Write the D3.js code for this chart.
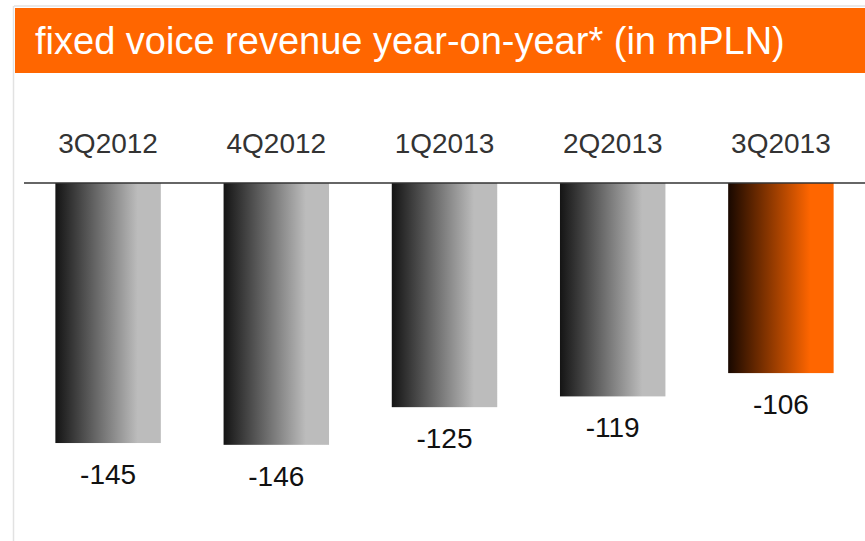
<!DOCTYPE html>
<html>
<head>
<meta charset="utf-8">
<script src="https://cdn.jsdelivr.net/npm/d3@7"></script>
<style>
  html, body { margin: 0; padding: 0; background: #fff; }
  svg { display: block; }
  text { font-family: "Liberation Sans", Arial, Helvetica, sans-serif; }
</style>
</head>
<body>
<svg id="chart" width="865" height="541"></svg>
<script>
// Quarterly year-on-year change in fixed voice revenue (mPLN)
const quarters = ["3Q2012", "4Q2012", "1Q2013", "2Q2013", "3Q2013"];
const revenueChange = [-145, -146, -125, -119, -106];
const highlightQuarter = "3Q2013";
const titleText = "fixed voice revenue year-on-year* (in mPLN)";

const W = 865, H = 541;
const svg = d3.select("#chart");

// Gradients: grey for earlier quarters, orange for the latest one
const defs = svg.append("defs");
function addGradient(id, from, to) {
  const g = defs.append("linearGradient")
    .attr("id", id).attr("x1", "0%").attr("x2", "100%").attr("y1", "0%").attr("y2", "0%");
  g.append("stop").attr("offset", "0%").attr("stop-color", from);
  g.append("stop").attr("offset", "78%").attr("stop-color", to);
  g.append("stop").attr("offset", "100%").attr("stop-color", to);
}
addGradient("gradGrey", "#141414", "#bcbcbc");
addGradient("gradOrange", "#180800", "#ff6600");

// Slide frame
svg.append("line").attr("x1", 14).attr("x2", W).attr("y1", 6).attr("y2", 6)
  .attr("stroke", "#e2e2e2").attr("stroke-width", 1.5);
svg.append("line").attr("x1", 13.5).attr("x2", 13.5).attr("y1", 6).attr("y2", H)
  .attr("stroke", "#e2e2e2").attr("stroke-width", 1.5);

// Title bar
svg.append("rect").attr("x", 15).attr("y", 8).attr("width", W - 15).attr("height", 65)
  .attr("fill", "#ff6600");
svg.append("text").attr("x", 35).attr("y", 54)
  .attr("fill", "#fff").attr("font-size", 38)
  .text(titleText);

// Scales
const x = d3.scaleBand().domain(quarters).range([24, W])
  .paddingInner(0.373).paddingOuter(0.1865);
const y = d3.scaleLinear().domain([0, -150]).range([183, 452]);

// Category labels above the zero line
const topAxis = d3.axisTop(x).tickSize(0).tickPadding(0);
const axisG = svg.append("g").attr("transform", "translate(0,153)").call(topAxis);
axisG.select(".domain").remove();
axisG.selectAll("text")
  .attr("font-size", 28).attr("fill", "#333").attr("dy", 0)
  .style("font-family", "\"Liberation Sans\", Arial, sans-serif");

const data = quarters.map((q, i) => ({ q, v: revenueChange[i] }));

// Bars hanging from zero
svg.append("g").selectAll("rect").data(data).join("rect")
  .attr("x", d => x(d.q))
  .attr("y", y(0))
  .attr("width", x.bandwidth())
  .attr("height", d => y(d.v) - y(0))
  .attr("fill", d => d.q === highlightQuarter ? "url(#gradOrange)" : "url(#gradGrey)");

// Zero line
svg.append("line").attr("x1", 24).attr("x2", W).attr("y1", y(0)).attr("y2", y(0))
  .attr("stroke", "#333").attr("stroke-width", 1.5);

// Value labels below each bar
svg.append("g").selectAll("text").data(data).join("text")
  .attr("x", d => x(d.q) + x.bandwidth() / 2)
  .attr("y", d => y(d.v) + 41)
  .attr("text-anchor", "middle")
  .attr("font-size", 28).attr("fill", "#111")
  .text(d => d3.format("d")(d.v).replace("−", "-"));
</script>
</body>
</html>
